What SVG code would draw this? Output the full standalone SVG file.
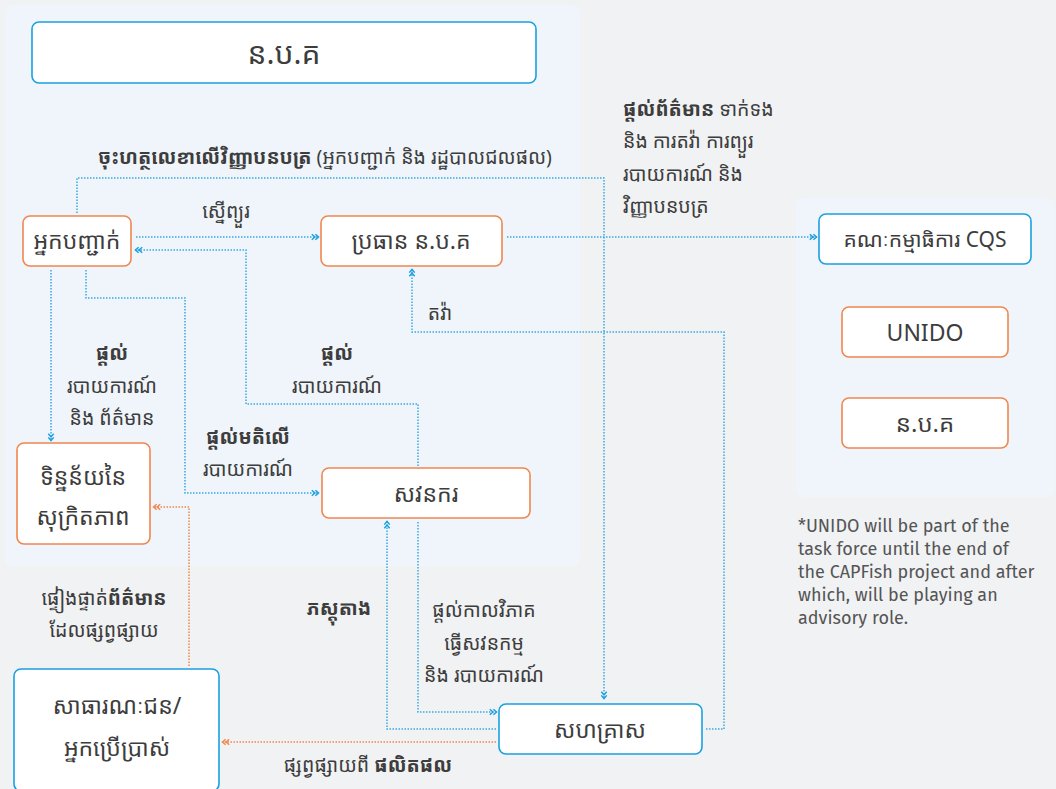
<svg xmlns="http://www.w3.org/2000/svg" width="1056" height="789" viewBox="0 0 1056 789">
<style>
  .bg{fill:#f1f2f4}
  .panel{fill:#eff5fa}
  .nb{fill:#fff;stroke:#1aa0e0;stroke-width:1.6}
  .no{fill:#fff;stroke:#f0874f;stroke-width:1.6}
  .t{font-family:"Noto Sans Khmer","Khmer OS","Noto Sans","DejaVu Sans",sans-serif;fill:#3d3d3d;text-anchor:middle}
  .n{font-size:23px}
  .l{font-size:19.5px}
  .b{font-weight:bold}
  .s{text-anchor:start}
  .cb{fill:none;stroke:#38a9e2;stroke-width:1.5;stroke-dasharray:1.5 1.5}
  .co{fill:none;stroke:#f0874f;stroke-width:1.5;stroke-dasharray:1.5 1.5}
  .note{font-family:"Fira Sans","Noto Sans","Open Sans",sans-serif;font-size:18px;fill:#555}
</style>
<defs>
  <marker id="ab" viewBox="0 0 10 10" refX="9" refY="5" markerWidth="9" markerHeight="9" markerUnits="userSpaceOnUse" orient="auto">
    <path d="M1,2 L4.5,5 L1,8 M5,2 L8.5,5 L5,8" fill="none" stroke="#1a9fe0" stroke-width="1.6"/>
  </marker>
  <marker id="ao" viewBox="0 0 10 10" refX="9" refY="5" markerWidth="9" markerHeight="9" markerUnits="userSpaceOnUse" orient="auto">
    <path d="M1,2 L4.5,5 L1,8 M5,2 L8.5,5 L5,8" fill="none" stroke="#f0874f" stroke-width="1.6"/>
  </marker>
</defs>
<rect class="bg" x="0" y="0" width="1056" height="789"/>
<rect class="panel" x="5" y="5" width="575" height="561" rx="8"/>
<rect class="panel" x="796" y="198" width="259" height="299" rx="8"/>

<g id="connectors">
  <path class="cb" d="M77,213 V178 H604 V699" marker-end="url(#ab)"/>
  <path class="cb" d="M136,237 H319" marker-end="url(#ab)"/>
  <path class="cb" d="M418,466 V404 H246 V250 H135" marker-end="url(#ab)"/>
  <path class="cb" d="M51,270 V441" marker-end="url(#ab)"/>
  <path class="cb" d="M86,270 V298 H185 V493 H319" marker-end="url(#ab)"/>
  <path class="cb" d="M507,237 H817" marker-end="url(#ab)"/>
  <path class="cb" d="M706,729 H724 V332 H412 V269" marker-end="url(#ab)"/>
  <path class="cb" d="M418,522 V712 H497" marker-end="url(#ab)"/>
  <path class="cb" d="M496,729 H387 V521" marker-end="url(#ab)"/>
  <path class="co" d="M496,742 H222" marker-end="url(#ao)"/>
  <path class="co" d="M189,666 V507 H153" marker-end="url(#ao)"/>
</g>

<g id="n-top"><rect class="nb" x="32" y="22" width="504" height="61" rx="7"/><text class="t" x="284" y="64" font-size="30">ន.ប.គ</text></g>
<g id="n-certifier"><rect class="no" x="23" y="216" width="108" height="50" rx="7"/><text class="t n" x="77" y="249">អ្នកបញ្ជាក់</text></g>
<g id="n-director"><rect class="no" x="321" y="216" width="181" height="50" rx="7"/><text class="t n" x="411" y="249" font-size="24">ប្រធាន ន.ប.គ</text></g>
<g id="n-data"><rect class="no" x="17" y="443" width="133" height="101" rx="7"/><text class="t n" x="83" y="485">ទិន្នន័យនៃ</text><text class="t n" x="83" y="525">សុក្រិតភាព</text></g>
<g id="n-auditor"><rect class="no" x="322" y="468" width="208" height="50" rx="7"/><text class="t n" x="426" y="502">សវនករ</text></g>
<g id="n-public"><rect class="nb" x="14" y="669" width="205" height="122" rx="7"/><text class="t n" x="117" y="714">សាធារណៈជន/</text><text class="t n" x="117" y="756">អ្នកប្រើប្រាស់</text></g>
<g id="n-enterprise"><rect class="nb" x="499" y="704" width="203" height="50" rx="7"/><text class="t n" x="600" y="738">សហគ្រាស</text></g>
<g id="n-cqs"><rect class="nb" x="819" y="214" width="212" height="50" rx="7"/><text class="t" x="925" y="247" font-size="21">គណៈកម្មាធិការ CQS</text></g>
<g id="n-unido"><rect class="no" x="842" y="307" width="166" height="50" rx="7"/><text class="t" x="925" y="341" font-size="23">UNIDO</text></g>
<g id="n-nbk"><rect class="no" x="842" y="398" width="166" height="50" rx="7"/><text class="t" x="925" y="432" font-size="24">ន.ប.គ</text></g>

<g id="labels">
  <text class="t l" x="325" y="164"><tspan class="b">ចុះហត្ថលេខាលើវិញ្ញាបនបត្រ</tspan> (អ្នកបញ្ជាក់ និង រដ្ឋបាលជលផល)</text>
  <text class="t l" x="226" y="218">ស្នើព្យួរ</text>
  <text class="t l" x="440" y="320">តវ៉ា</text>
  <text class="t l b" x="112" y="360">ផ្តល់</text>
  <text class="t l" x="112" y="393">របាយការណ៍</text>
  <text class="t l" x="112" y="425">និង ព័ត៌មាន</text>
  <text class="t l b" x="337" y="360">ផ្តល់</text>
  <text class="t l" x="337" y="393">របាយការណ៍</text>
  <text class="t l b" x="248" y="444">ផ្តល់មតិលើ</text>
  <text class="t l" x="248" y="476">របាយការណ៍</text>
  <text class="t l" x="104" y="605">ផ្ទៀងផ្ទាត់<tspan class="b">ព័ត៌មាន</tspan></text>
  <text class="t l" x="104" y="637">ដែលផ្សព្វផ្សាយ</text>
  <text class="t l b" x="339" y="615">ភស្តុតាង</text>
  <text class="t l" x="484" y="617">ផ្តល់កាលវិភាគ</text>
  <text class="t l" x="484" y="650">ធ្វើសវនកម្ម</text>
  <text class="t l" x="484" y="682">និង របាយការណ៍</text>
  <text class="t l" x="368" y="772">ផ្សព្វផ្សាយពី <tspan class="b">ផលិតផល</tspan></text>
  <text class="t l s" x="623" y="116"><tspan class="b">ផ្តល់ព័ត៌មាន</tspan> ទាក់ទង</text>
  <text class="t l s" x="623" y="148">និង ការតវ៉ា ការព្យួរ</text>
  <text class="t l s" x="623" y="181">របាយការណ៍ និង</text>
  <text class="t l s" x="623" y="213">វិញ្ញាបនបត្រ</text>
</g>

<g id="note">
  <text class="note" x="798" y="532">*UNIDO will be part of the</text>
  <text class="note" x="798" y="555">task force until the end of</text>
  <text class="note" x="798" y="578">the CAPFish project and after</text>
  <text class="note" x="798" y="601">which, will be playing an</text>
  <text class="note" x="798" y="624">advisory role.</text>
</g>
</svg>
